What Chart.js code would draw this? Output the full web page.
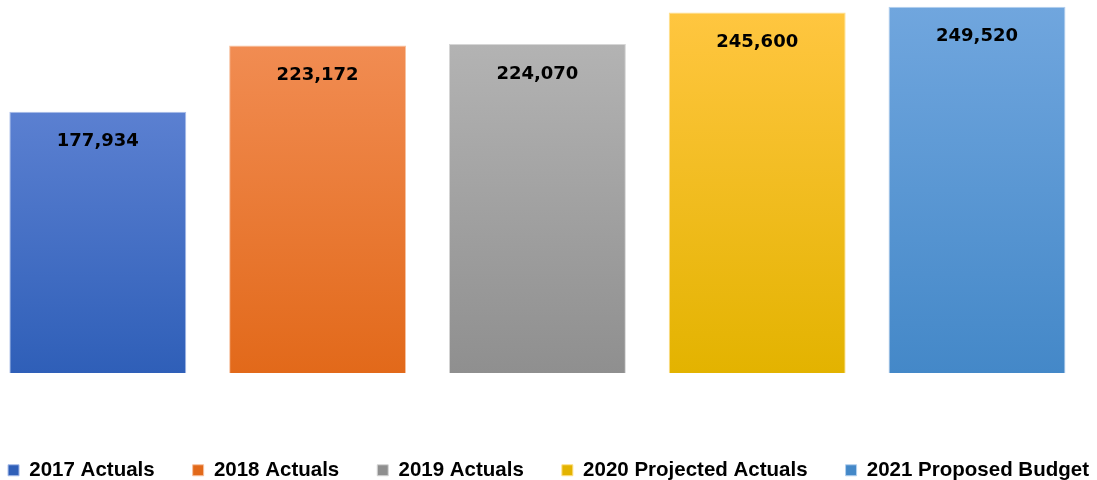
<!DOCTYPE html>
<html>
<head>
<meta charset="utf-8">
<title>Budget by Year</title>
<script src="https://cdn.jsdelivr.net/npm/chart.js@4.4.0/dist/chart.umd.min.js"></script>
<style>
  html, body { margin: 0; padding: 0; background: #fff; }
  #wrap { position: relative; width: 1097px; height: 480px; }
</style>
</head>
<body>
<div id="wrap"><canvas id="chart"></canvas></div>
<script>
'use strict';

// ------------------------------- Data ------------------------------//
const seriesNames = ['2017 Actuals', '2018 Actuals', '2019 Actuals', '2020 Projected Actuals', '2021 Proposed Budget'];
const seriesValues = [177934, 223172, 224070, 245600, 249520];
const seriesSlots = [0, 1, 2, 3, 4];

// ------------------------------- Styles ------------------------------//
const topColors = ['#5b80d1', '#f18c52', '#b3b3b3', '#ffc640', '#70a6de'];
const bottomColors = ['#2f5fb8', '#e2691a', '#8f8f8f', '#e3b300', '#4488c8'];
const legendColors = ['#4570c8', '#ee7d35', '#a5a5a5', '#fac214', '#5e9bd8'];
const edgeColors = ['#a9bde9', '#f7c2a0', '#d6d6d6', '#ffe08a', '#b4d0ee'];

const legendHeight = 107;   // space under the plot
const legendShift = 49;     // pushes the legend row down inside that space
const legendBleed = 40;     // lets the legend row run wider than the canvas
const labelOffset = 30;     // value label distance below bar top

// ------------------------------- Helpers ------------------------------//
function barFill(i) {
  return function (ctx) {
    if (ctx.type !== 'data') return legendColors[i];
    const chart = ctx.chart;
    const area = chart.chartArea;
    const yScale = chart.scales.y;
    if (!area || !yScale) return legendColors[i];
    const top = yScale.getPixelForValue(ctx.parsed.y);
    const grad = chart.ctx.createLinearGradient(0, top, 0, area.bottom);
    grad.addColorStop(0, topColors[i]);
    grad.addColorStop(1, bottomColors[i]);
    return grad;
  };
}

const legendLayout = {
  id: 'legendLayout',
  beforeInit(chart) {
    const legend = chart.legend;
    const fit = legend.fit;
    const draw = legend.draw;
    legend.fit = function () {
      this.maxWidth += legendBleed * 2;
      fit.call(this);
      this.height = legendHeight;
    };
    legend.draw = function () {
      this.left -= legendBleed;
      this.right += legendBleed;
      this.top += legendShift;
      draw.call(this);
      this.left += legendBleed;
      this.right -= legendBleed;
      this.top -= legendShift;
    };
  }
};

const valueLabels = {
  id: 'valueLabels',
  afterDatasetsDraw(chart) {
    const ctx = chart.ctx;
    ctx.save();
    ctx.font = 'bold 18px "DejaVu Sans"';
    ctx.fillStyle = '#000';
    ctx.textAlign = 'center';
    ctx.textBaseline = 'middle';
    chart.data.datasets.forEach((ds, i) => {
      const bar = chart.getDatasetMeta(i).data[0];
      ctx.fillText(seriesValues[i].toLocaleString('en-US'), bar.x, bar.y + labelOffset);
    });
    ctx.restore();
  }
};

// ------------------------------- Chart ------------------------------//
const datasets = seriesNames.map((name, i) => ({
  label: name,
  data: [{ x: seriesSlots[i], y: seriesValues[i] }],
  backgroundColor: barFill(i),
  borderColor: edgeColors[i],
  borderWidth: (ctx) => (ctx.type === 'data' ? 1 : 0),
  grouped: false,
  categoryPercentage: 1,
  barPercentage: 0.805
}));

new Chart(document.getElementById('chart'), {
  type: 'bar',
  data: { datasets: datasets },
  plugins: [legendLayout, valueLabels],
  options: {
    responsive: true,
    maintainAspectRatio: false,
    animation: false,
    layout: { padding: { top: 6, left: 0, right: 0, bottom: 0 } },
    scales: {
      x: {
        type: 'linear',
        display: false,
        offset: false,
        min: -0.445,
        max: 4.546,
        ticks: { stepSize: 1, includeBounds: false }
      },
      y: {
        display: false,
        min: 0,
        max: 250000
      }
    },
    plugins: {
      tooltip: { enabled: false },
      legend: {
        position: 'bottom',
        labels: {
          boxWidth: 11,
          boxHeight: 11,
          padding: 38,
          color: '#000',
          font: { family: '"Liberation Sans", Arial, sans-serif', size: 20.5, weight: 'bold' }
        }
      }
    }
  }
});
</script>
</body>
</html>
